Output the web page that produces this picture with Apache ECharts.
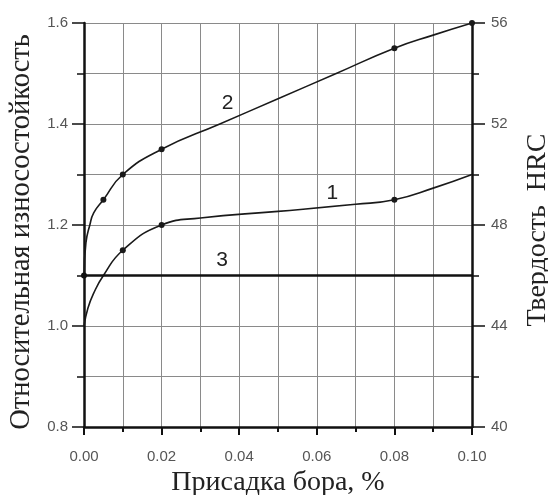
<!DOCTYPE html>
<html>
<head>
<meta charset="utf-8">
<script src="https://cdn.jsdelivr.net/npm/echarts@6/dist/echarts.min.js"></script>
<style>
  html, body { margin: 0; padding: 0; background: #fff; }
  #chart { width: 548px; height: 495px; }
</style>
</head>
<body>
<div id="chart"></div>
<script>
// кривая 1 - относительная износостойкость
var curve1X = [0, 0.001, 0.0025, 0.005, 0.01, 0.02, 0.03, 0.05, 0.07, 0.08, 0.09, 0.1];
var curve1Y = [1.0, 1.035, 1.065, 1.1, 1.15, 1.2, 1.214, 1.227, 1.241, 1.25, 1.273, 1.3];
var curve1Dots = [0.01, 0.02, 0.08];
// кривая 2
var curve2X = [0, 0.0005, 0.0015, 0.0025, 0.005, 0.01, 0.02, 0.035, 0.05, 0.065, 0.08, 0.09, 0.1];
var curve2Y = [1.1, 1.165, 1.2, 1.224, 1.25, 1.3, 1.35, 1.4, 1.45, 1.5, 1.55, 1.576, 1.6];
var curve2Dots = [0.005, 0.01, 0.02, 0.08, 0.1];
// линия 3
var line3X = [0, 0.1];
var line3Y = [1.1, 1.1];
var line3Dots = [0];
// подписи кривых
var curveNames = ['1', '2', '3'];
var namePos = [[0.064, 1.263], [0.037, 1.442], [0.0356, 1.131]];

var xTicks = { min: 0, max: 0.1, step: 0.02 };
var leftTicks = { min: 0.8, max: 1.6, step: 0.2 };
var rightTicks = { min: 40, max: 56, step: 4 };

function pts(xs, ys, dots) {
  return xs.map(function (x, i) {
    var on = dots.indexOf(x) >= 0;
    return { value: [x, ys[i]], symbol: on ? 'circle' : 'none' };
  });
}

// подпись номера кривой
function numLabel(i) {
  return {
    symbol: 'circle',
    symbolSize: 1,
    itemStyle: { color: 'rgba(0,0,0,0)' },
    label: { show: true, position: 'inside', formatter: '{b}', fontFamily: 'Liberation Sans', fontSize: 21, color: '#222' },
    data: [{ name: curveNames[i], coord: namePos[i] }]
  };
}

var chart = echarts.init(document.getElementById('chart'));
var gridColor = '#8a8a8a';
var labelStyle = { color: '#555', fontFamily: 'Liberation Sans', fontSize: 15 };

var option = {
  backgroundColor: '#fff',
  animation: false,
  grid: { left: 84, right: 76, top: 23, bottom: 68, outerBoundsMode: 'none' },
  xAxis: {
    type: 'value',
    min: xTicks.min, max: xTicks.max, interval: xTicks.step,
    name: 'Присадка бора, %',
    nameLocation: 'middle',
    nameGap: 42,
    nameTextStyle: { fontFamily: 'Liberation Serif', fontSize: 28, color: '#222' },
    axisLine: { lineStyle: { color: '#111', width: 2.5 } },
    axisTick: { show: true, length: 8, lineStyle: { color: '#111', width: 2 } },
    minorTick: { show: true, splitNumber: 2, length: 5, lineStyle: { color: '#111', width: 2 } },
    axisLabel: Object.assign({ margin: 22, formatter: function (v) { return v.toFixed(2); } }, labelStyle),
    splitLine: { show: true, lineStyle: { color: gridColor, width: 1 } },
    minorSplitLine: { show: true, lineStyle: { color: gridColor, width: 1 } }
  },
  yAxis: [
    {
      type: 'value',
      min: leftTicks.min, max: leftTicks.max, interval: leftTicks.step,
      name: 'Относительная износостойкость',
      nameLocation: 'middle',
      nameRotate: 90,
      nameGap: 47,
      nameTextStyle: { fontFamily: 'Liberation Serif', fontSize: 28.5, color: '#222', padding: [0, 14, 0, 0] },
      axisLine: { show: true, lineStyle: { color: '#111', width: 2.5 } },
      axisTick: { show: true, length: 12, lineStyle: { color: '#111', width: 1.5 } },
      minorTick: { show: true, splitNumber: 2, length: 7, lineStyle: { color: '#111', width: 1.5 } },
      axisLabel: Object.assign({ margin: 16, formatter: function (v) { return v.toFixed(1); } }, labelStyle),
      splitLine: { show: true, lineStyle: { color: gridColor, width: 1 } },
      minorSplitLine: { show: true, lineStyle: { color: gridColor, width: 1 } }
    },
    {
      type: 'value',
      position: 'right',
      min: rightTicks.min, max: rightTicks.max, interval: rightTicks.step,
      name: 'Твердость  HRC',
      nameLocation: 'middle',
      nameRotate: 90,
      nameGap: 52,
      nameTextStyle: { fontFamily: 'Liberation Serif', fontSize: 28, color: '#222', padding: [0, 10, 0, 0] },
      axisLine: { show: true, lineStyle: { color: '#111', width: 2.5 } },
      axisTick: { show: true, length: 13, lineStyle: { color: '#111', width: 1.5 } },
      minorTick: { show: true, splitNumber: 2, length: 7, lineStyle: { color: '#111', width: 1.5 } },
      axisLabel: Object.assign({ margin: 19 }, labelStyle),
      splitLine: { show: false }
    }
  ],
  series: [
    {
      type: 'line', name: curveNames[0],
      data: pts(curve1X, curve1Y, curve1Dots),
      smooth: 0.5,
      symbolSize: 6,
      lineStyle: { color: '#1a1a1a', width: 1.6 },
      itemStyle: { color: '#1a1a1a' },
      markPoint: numLabel(0)
    },
    {
      type: 'line', name: curveNames[1],
      data: pts(curve2X, curve2Y, curve2Dots),
      smooth: 0.5,
      symbolSize: 6,
      lineStyle: { color: '#1a1a1a', width: 1.6 },
      itemStyle: { color: '#1a1a1a' },
      markPoint: numLabel(1)
    },
    {
      type: 'line', name: curveNames[2],
      data: pts(line3X, line3Y, line3Dots),
      symbolSize: 6,
      lineStyle: { color: '#111', width: 2.6 },
      itemStyle: { color: '#111' },
      markPoint: numLabel(2)
    }
  ]
};
chart.setOption(option);
</script>
</body>
</html>
